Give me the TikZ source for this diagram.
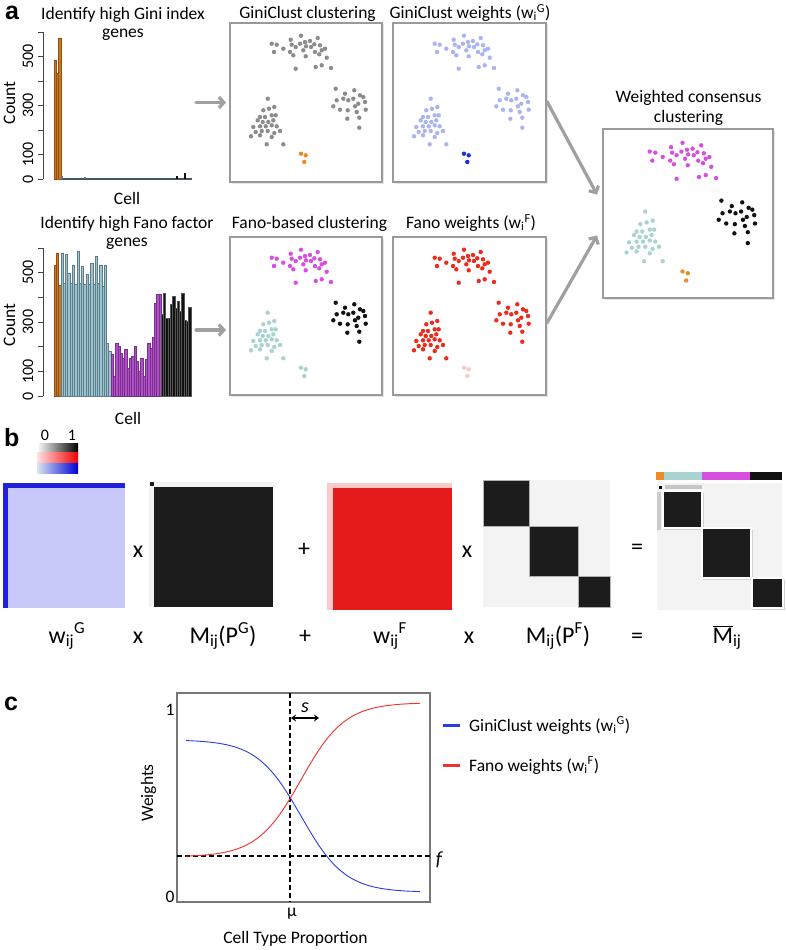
\documentclass[tikz,border=0pt]{standalone}
\usepackage{fontspec}
\setmainfont{Carlito}
\newfontfamily\lettfont{Liberation Sans}
\usetikzlibrary{arrows.meta,calc,shadows}
\definecolor{boxgray}{HTML}{9A9A9A}
\definecolor{arrgray}{HTML}{A0A0A0}
\definecolor{dgray}{HTML}{8C8C8C}
\definecolor{corange}{HTML}{F08A24}
\definecolor{clav}{HTML}{AAB4F2}
\definecolor{cdblue}{HTML}{1F2FD6}
\definecolor{cmag}{HTML}{D64FE0}
\definecolor{cblack}{HTML}{111111}
\definecolor{cteal}{HTML}{A9D3D1}
\definecolor{cred}{HTML}{EE2A1A}
\definecolor{cpink}{HTML}{F6CACA}
\definecolor{mlav}{HTML}{C9C9F9}
\definecolor{mblue}{HTML}{2222DD}
\definecolor{mblack}{HTML}{1C1C1C}
\definecolor{mlight}{HTML}{F3F3F3}
\definecolor{mred}{HTML}{E31B1B}
\definecolor{mpink}{HTML}{FBC9C9}
\definecolor{axc}{HTML}{444444}
\definecolor{lblue}{HTML}{2B3BE0}
\definecolor{lred}{HTML}{F0302A}
\definecolor{HTML9cc3d0}{HTML}{9CC3D0}
\definecolor{HTML5d7d88}{HTML}{5D7D88}
\definecolor{HTMLb050c8}{HTML}{B050C8}
\definecolor{HTML7a2f8a}{HTML}{7A2F8A}
\definecolor{HTML555555}{HTML}{555555}
\newcommand\ftitle{\fontsize{17.5}{19}\selectfont}
\newcommand\fbig{\fontsize{24}{26}\selectfont}
\newcommand\ftick{\fontsize{16}{18}\selectfont}
\newcommand\flet{\lettfont\bfseries\fontsize{25}{28}\selectfont}
\newcommand\toppts{41.7/20.7, 46.7/21.7, 44/29, 53.3/25.7, 60.7/16.7, 61.7/21.7, 60/29, 63.3/32.3, 65.7/24, 71/12.7, 70/20.7, 75/19, 76/23.3, 73.3/27.3, 75.7/33.3, 80/18, 81/24, 84.3/21.3, 87.7/15, 85/29, 90/22.3, 91.7/27.3, 95/25.7, 89.3/31.3, 65.7/45.7, 85.7/44, 91.7/42.3, 101/45, 96.7/34.7}
\newcommand\rightpts{105.7/65.7, 124.3/67.3, 115/70.7, 113.3/75.7, 106.7/77.3, 118.3/77.3, 123.3/75.7, 130/72.3, 133.3/74, 103.3/83.3, 110/86.7, 117.7/87.3, 125/83.3, 128.3/80.7, 135/79, 135.7/86.7, 126.7/89, 117.3/95.7, 129.3/94.7, 129.3/104.7}
\newcommand\leftpts{37.7/75.7, 33.3/87.3, 39/85.7, 44.3/84, 30/94, 35/94, 41.7/92.3, 45.7/92.3, 27.7/97.3, 32.7/99, 38.3/99, 43.3/97.3, 23.3/104, 30/103.3, 35.7/103.3, 41.7/102.3, 46.7/103.3, 25.7/109, 31.7/108, 37.7/108, 44.3/110, 50/108, 21/113.3, 30/112.3, 41.7/114, 36.7/121.3, 53.3/121.3}
\newcommand\smallpts{71/130.7, 75.7/132.3, 74.3/139}
\newcommand\clusterdots[8]{%
  \foreach \a/\b in \toppts {\fill[#5] ({#1+#3*\a},{#2+#4*\b}) circle (2.2pt);}
  \foreach \a/\b in \rightpts {\fill[#6] ({#1+#3*\a},{#2+#4*\b}) circle (2.2pt);}
  \foreach \a/\b in \leftpts {\fill[#7] ({#1+#3*\a},{#2+#4*\b}) circle (2.2pt);}
  \foreach \a/\b in \smallpts {\fill[#8] ({#1+#3*\a},{#2+#4*\b}) circle (2.2pt);}
}
\tikzset{
  cbox/.style={draw=boxgray, line width=1.3pt, fill=white, inner sep=0pt, outer sep=0pt,
    drop shadow={opacity=0.2, shadow xshift=1.5pt, shadow yshift=-1.5pt}},
  garrow/.style={draw=arrgray, line width=3.2pt, -{Straight Barb[length=5pt,width=11pt]}, line cap=round},
  ttl/.style={font=\ftitle, anchor=base, inner sep=0pt},
  tick/.style={font=\ftick, anchor=base, inner sep=0pt},
  rtick/.style={font=\ftick, anchor=base, inner sep=0pt, rotate=90},
  bigl/.style={font=\fbig, anchor=base, inner sep=0pt},
  opn/.style={font=\fbig, anchor=center, inner sep=0pt},
  lett/.style={font=\flet, anchor=base west, inner sep=0pt},
  axl/.style={draw=axc, line width=0.8pt},
  barO/.style={fill=corange!85!black, draw=corange!60!black, line width=0.4pt},
  barB/.style={fill=HTML9cc3d0, draw=HTML5d7d88, line width=0.5pt},
  barP/.style={fill=HTMLb050c8, draw=HTML7a2f8a, line width=0.5pt},
  barK/.style={fill=cblack, draw=HTML555555, line width=0.5pt},
  dsh/.style={draw=black, line width=1.2pt, dash pattern=on 5pt off 3pt},
}
\begin{document}
\begin{tikzpicture}[x=1pt,y=-1pt]
\useasboundingbox[fill=white] (0,0) rectangle (785,950);

% ---------------- Panel a ----------------
\node[lett] (la) at (5,20) {a};

% top histogram
\node[ttl] (tg1) at (123,20) {Identify high Gini index};
\node[ttl] (tg2) at (123,37.5) {genes};
\draw[axl] (43,32) -- (43,179);
\foreach \t in {0,...,6} {\draw[axl] (38,{179-\t*24.5}) -- (43,{179-\t*24.5});}
\foreach \v/\n in {0/0,100/1,300/3,500/5} {\node[rtick] (ta\n) at (33,{179-\v*0.245}) {\v};}
\node[rtick, font=\ftitle] (cnta) at (15,103) {Count};
\foreach \v [count=\i from 0] in {480,430,570} {\filldraw[barO] ({54+\i*2.3},179) rectangle ++(2.3,{-\v*0.2467});}
\draw[line width=1.2pt, draw=HTML5d7d88!70!black] (61,179) -- (192,179);
\fill[HTML5d7d88] (61,176) rectangle (63,179);
\fill[HTML5d7d88] (84,177) rectangle (86,179);
\fill[cblack] (176,176) rectangle (178,179);
\fill[cblack] (184,173) rectangle (186,179);
\node[ttl] (cella) at (127,204) {Cell};

% bottom histogram
\node[ttl] (tf1) at (127,228) {Identify high Fano factor};
\node[ttl] (tf2) at (127,246.5) {genes};
\draw[axl] (43,248) -- (43,396);
\foreach \t in {0,...,6} {\draw[axl] (38,{396-\t*24.67}) -- (43,{396-\t*24.67});}
\foreach \v/\n in {0/0,100/1,300/3,500/5} {\node[rtick] (tb\n) at (33,{396-\v*0.2467}) {\v};}
\node[rtick, font=\ftitle] (cntb) at (15,325) {Count};
\foreach \v [count=\i from 0] in {532,580,451}
  {\filldraw[barO] ({54+\i*2.28},396) rectangle ++(2.28,{-\v*0.2467});}
\foreach \v [count=\i from 3] in {580,458,573,499,458,532,451,586,458,526,451,492,451,540,451,566,458,532,445,532,215,181}
  {\filldraw[barB] ({54+\i*2.28},396) rectangle ++(2.28,{-\v*0.2467});}
\foreach \v [count=\i from 25] in {168,80,215,201,174,154,188,114,154,161,201,140,100,154,80,147,215,195,240,377,414,411}
  {\filldraw[barP] ({54+\i*2.28},396) rectangle ++(2.28,{-\v*0.2467});}
\foreach \v [count=\i from 47] in {330,418,316,316,370,404,357,384,343,418,309,303,360}
  {\filldraw[barK] ({54+\i*2.28},396) rectangle ++(2.28,{-\v*0.2467});}
\node[ttl] (cellb) at (128,424) {Cell};

% cluster boxes
\node[cbox, minimum width=152pt, minimum height=159pt] (b1) at (306,102.5) {};
\node[cbox, minimum width=153pt, minimum height=159pt] (b2) at (469.5,102.5) {};
\node[cbox, minimum width=152pt, minimum height=158pt] (b3) at (306,316) {};
\node[cbox, minimum width=153pt, minimum height=158pt] (b4) at (469.5,316) {};
\node[cbox, minimum width=170pt, minimum height=169pt] (b5) at (688,213.5) {};

\node[ttl] (t1) at (307.5,18.3) {GiniClust clustering};
\node[ttl] (t2) at (470,18.3) {GiniClust weights (w\textsubscript{i}\textsuperscript{G})};
\node[ttl] (t3) at (309.5,228.3) {Fano-based clustering};
\node[ttl] (t4) at (471,228.3) {Fano weights (w\textsubscript{i}\textsuperscript{F})};
\node[ttl] (t5a) at (688.5,102.7) {Weighted consensus};
\node[ttl] (t5b) at (688.5,122.7) {clustering};

\clusterdots{230}{23}{1}{1}{dgray}{dgray}{dgray}{corange}
\clusterdots{393}{23}{1}{1}{clav}{clav}{clav}{cdblue}
\clusterdots{230}{237}{1}{1}{cmag}{cblack}{cteal}{cteal}
\clusterdots{393}{237}{1}{1}{cred}{cred}{cred}{cpink}
\clusterdots{603}{129}{1.12}{1.09}{cmag}{cblack}{cteal}{corange}

\coordinate (h1) at (196,102.5);
\coordinate (h2) at (196,330);
\draw[garrow, shorten >=4pt] (h1) -- (b1.west);
\draw[garrow, shorten >=4pt] (h2) -- (h2 -| b3.west);
\draw[garrow] ($(b2.east)+(1,-1)$) -- ($(b5.west)+(-6,-19)$);
\draw[garrow] ($(b4.east)+(1,7)$) -- ($(b5.west)+(-6,22)$);

% ---------------- Panel b ----------------
\node[lett] (lb) at (4,446) {b};
\node[tick] (c0) at (45,440) {0};
\node[tick] (c1) at (72,440) {1};
\shade[left color=white, right color=black] (37,443) rectangle (78,452);
\shade[left color=red!12, right color=red!95!black] (37,452) rectangle (78,463);
\shade[left color=HTML9cc3d0!40, right color=blue!85!black] (37,463) rectangle (78,473);

% matrix 1
\fill[mlav] (3,483) rectangle (125,608);
\fill[mblue] (3,483) rectangle (125,487.5);
\fill[mblue] (3,483) rectangle (7.5,608);
% matrix 2
\fill[mlight] (149,482) rectangle (273,607);
\fill[mblack] (154,487) rectangle (273,607);
\fill[mblack] (150,482) rectangle (154,486);
% matrix 3
\fill[mpink] (327,483) rectangle (452,610);
\fill[mred] (333,488) rectangle (452,610);
% matrix 4
\fill[mlight] (483,480) rectangle (610,607);
\filldraw[fill=mblack, draw=gray!60] (483,480) rectangle (529,526);
\filldraw[fill=mblack, draw=gray!60] (529,526) rectangle (578,576);
\filldraw[fill=mblack, draw=gray!60] (578,576) rectangle (610,607);
% matrix 5
\fill[corange] (656,472) rectangle (664,480);
\fill[cteal] (664,472) rectangle (702,480);
\fill[cmag] (702,472) rectangle (750,480);
\fill[cblack] (750,472) rectangle (782,480);
\fill[mlight] (657,483) rectangle (782,610);
\fill[gray!45] (665,485) rectangle (702,488.5);
\fill[gray!40] (657,492) rectangle (661,530);
\fill[black] (659,485.5) rectangle (662,488.5);
\foreach \xa/\ya/\xb/\yb in {664/492/701/527, 703/529/750/577, 753/579/782/607} {
  \fill[gray!35] (\xa-0.5,\ya+1) rectangle (\xb+2.5,\yb+3);
  \fill[white] (\xa-2,\ya-2) rectangle (\xb+2,\yb+2);
  \fill[mblack] (\xa,\ya) rectangle (\xb,\yb);
}

\node[opn] (o1) at (138,552) {x};
\node[opn] (o2) at (304,550) {+};
\node[opn] (o3) at (467,552) {x};
\node[opn] (o4) at (637,549) {=};

\node[bigl] (e1) at (67,643) {w\textsubscript{ij}\textsuperscript{G}};
\node[bigl] (e2) at (138,643) {x};
\node[bigl] (e3) at (223,643) {M\textsubscript{ij}(P\textsuperscript{G})};
\node[bigl] (e4) at (305,643) {+};
\node[bigl] (e5) at (390,643) {w\textsubscript{ij}\textsuperscript{F}};
\node[bigl] (e6) at (469,643) {x};
\node[bigl] (e7) at (558,643) {M\textsubscript{ij}(P\textsuperscript{F})};
\node[bigl] (e8) at (637,643) {=};
\node[bigl] (e9) at (727,643) {\(\overline{\hbox{M}}\)\textsubscript{ij}};

% ---------------- Panel c ----------------
\node[lett] (lc) at (4,710) {c};
\draw[draw=HTML555555!80, line width=1.2pt] (177,693) rectangle (430,902);
\node[tick, font=\ftitle] (y1) at (170,715) {1};
\node[tick, font=\ftitle] (y0) at (170,902) {0};
\node[rtick, font=\ftitle] (yl) at (153,793) {Weights};
\node[tick, font=\ftitle] (mu) at (292,916) {µ};
\node[tick, font=\ftitle] (xl) at (295.5,943) {Cell Type Proportion};
\draw[dsh] (290,693) -- (290,902);
\draw[dsh] (177,856) -- (430,856);
\node[tick, font=\fontsize{20}{22}\selectfont\itshape] (sl) at (305,712) {s};
\node[tick, font=\fontsize{20}{22}\selectfont\itshape] (fl) at (439,865) {f};
\draw[line width=1.8pt, {Stealth[length=5pt,width=7pt]}-{Stealth[length=5pt,width=7pt]}] (291,718) -- (319,718);
\draw[lblue, line width=0.9pt, domain=186:420, samples=120, smooth]
  plot (\x, {896-186*(0.02+0.82*(1-1/(1+exp(-(\x-301)/22))))});
\draw[lred, line width=0.9pt, domain=186:420, samples=120, smooth]
  plot (\x, {896-186*(0.21+0.83/(1+exp(-(\x-301)/22)))});
\coordinate (lg1a) at (443,725);
\coordinate (lg1b) at (460,725);
\coordinate (lg2a) at (443,765);
\coordinate (lg2b) at (460,765);
\draw[lblue, line width=3pt] (lg1a) -- (lg1b);
\draw[lred, line width=3pt] (lg2a) -- (lg2b);
\node[ttl, anchor=base west] (lt1) at (469,731) {GiniClust weights (w\textsubscript{i}\textsuperscript{G})};
\node[ttl, anchor=base west] (lt2) at (469,771) {Fano weights (w\textsubscript{i}\textsuperscript{F})};
\end{tikzpicture}
\end{document}
